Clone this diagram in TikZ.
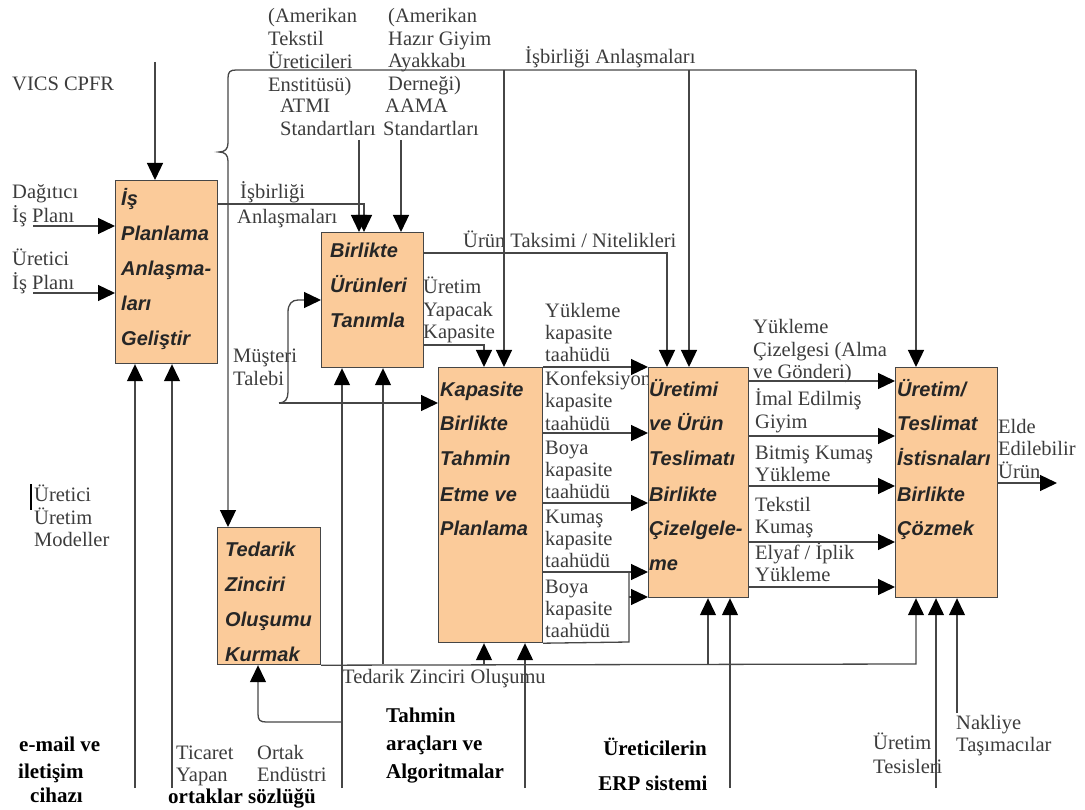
\documentclass[tikz,border=0pt]{standalone}
\usepackage{fontspec}
\setmainfont{Liberation Serif}
\newfontfamily\boxfont{Liberation Sans}
\usetikzlibrary{arrows.meta}
\definecolor{boxfill}{RGB}{251,203,154}
\definecolor{ink}{RGB}{60,60,60}
\definecolor{edge}{RGB}{70,70,70}
\newcommand{\ml}[1]{\begin{tabular}[t]{@{}l@{}}#1\end{tabular}}
\begin{document}
\begin{tikzpicture}[x=1pt,y=-1pt,
  lbl/.style={inner sep=0pt, anchor=base west, text=ink, font=\fontsize{20.5}{22.5}\selectfont},
  col/.style={lbl, font=\fontsize{20.5}{22}\selectfont},
  big/.style={inner sep=0pt, anchor=base west, text=black, font=\fontsize{21}{28}\selectfont\bfseries},
  proc/.style={draw=edge, line width=1.2pt, fill=boxfill, anchor=north west, inner sep=0pt},
  ptext/.style={inner sep=0pt, anchor=base west, text=black!85, font=\fontsize{20}{35}\selectfont\boxfont\bfseries\itshape},
  ln/.style={draw=edge, line width=1.3pt},
  arr/.style={ln, -{Triangle[length=17pt,width=16pt,black]}},
]
\useasboundingbox (0,0) rectangle (1085,810);

% ---------- labels ----------
\node[lbl] (vicsl) at (12,91) {VICS CPFR};
\node[lbl] (dagl) at (12,199) {\ml{Dağıtıcı\\İş Planı}};
\node[lbl] (uipl) at (12,266) {\ml{Üretici\\İş Planı}};
\node[lbl] (uuml) at (34,501) {\ml{Üretici\\Üretim\\Modeller}};
\node[lbl] (atmid) at (268,23) {\ml{(Amerikan\\Tekstil\\Üreticileri\\Enstitüsü)}};
\node[lbl] (atmil) at (280,113) {\ml{ATMI\\Standartları}};
\node[lbl] (aamad) at (388,23) {\ml{(Amerikan\\Hazır Giyim\\Ayakkabı\\Derneği)}};
\node[lbl] (aamal) at (383,113) {\ml{\hspace*{2pt}AAMA\\Standartları}};
\node[lbl] (isbt) at (525,64) {İşbirliği Anlaşmaları};
\node[lbl] (isbl) at (240,199) {İşbirliği};
\node[lbl] (anll) at (237,224) {Anlaşmaları};
\node[lbl] (ntl) at (463,248) {Ürün Taksimi / Nitelikleri};
\node[lbl] (ykl) at (423,294) {\ml{Üretim\\Yapacak\\Kapasite}};
\node[lbl] (mtl) at (233,363) {\ml{Müşteri\\Talebi}};
\node[col] (k0) at (545,318) {\ml{Yükleme\\kapasite\\taahüdü}};
\node[col] (k1) at (545,386) {\ml{Konfeksiyon\\kapasite\\taahüdü}};
\node[col] (k2) at (545,454) {\ml{Boya\\kapasite\\taahüdü}};
\node[col] (k3) at (545,523) {\ml{Kumaş\\kapasite\\taahüdü}};
\node[col] (k4) at (545,593) {\ml{Boya\\kapasite\\taahüdü}};
\node[lbl] (r0) at (753,334) {\ml{Yükleme\\Çizelgesi (Alma\\ve Gönderi)}};
\node[lbl] (r1) at (755,406) {\ml{İmal Edilmiş\\Giyim}};
\node[lbl] (r2) at (755,459) {\ml{Bitmiş Kumaş\\Yükleme}};
\node[lbl] (r3) at (755,511) {\ml{Tekstil\\Kumaş}};
\node[lbl] (r4) at (755,559) {\ml{Elyaf / İplik\\Yükleme}};
\node[lbl] (outl) at (998,433) {\ml{Elde\\Edilebilir\\Ürün}};
\node[lbl] (tzl) at (342,683) {Tedarik Zinciri Oluşumu};
\node[lbl] (ticl) at (176,759) {\ml{Ticaret\\Yapan}};
\node[lbl] (ortl) at (257,759) {\ml{Ortak\\Endüstri}};
\node[lbl] (tesl) at (873,749) {\ml{Üretim\\[2pt]Tesisleri}};
\node[lbl] (nakl) at (956,729) {\ml{Nakliye\\Taşımacılar}};
\node[big] (em1) at (19,751) {e-mail ve};
\node[big] (em2) at (18,778) {iletişim};
\node[big] (em3) at (30,802) {cihazı};
\node[big] (ortak) at (168,803) {ortaklar};
\node[big] (sozl) at (248,803) {sözlüğü};
\node[big] (tahl) at (386,722) {\ml{Tahmin\\araçları ve\\Algoritmalar}};
\node[big, anchor=base] (erp1) at (655,755) {Üreticilerin};
\node[big, anchor=base] (erp2) at (653,790) {ERP sistemi};

% ---------- process boxes ----------
\node[proc, minimum width=102pt, minimum height=183pt] (b1) at (115,180) {};
\node[proc, minimum width=102pt, minimum height=135pt] (b2) at (321,232) {};
\node[proc, minimum width=104pt, minimum height=275pt] (b3) at (438,367) {};
\node[proc, minimum width=100pt, minimum height=230pt] (b4) at (648,367) {};
\node[proc, minimum width=102pt, minimum height=230pt] (b5) at (895,367) {};
\node[proc, minimum width=103pt, minimum height=137pt] (b6) at (217,527) {};

\node[ptext] (b1t) at (121,206) {\ml{İş\\Planlama\\Anlaşma-\\ları\\Geliştir}};
\node[ptext] (b2t) at (330,258) {\ml{Birlikte\\Ürünleri\\Tanımla}};
\node[ptext] (b3t) at (440,396) {\ml{Kapasite\\Birlikte\\Tahmin\\Etme ve\\Planlama}};
\node[ptext] (b4t) at (649,396) {\ml{Üretimi\\ve Ürün\\Teslimatı\\Birlikte\\Çizelgele-\\me}};
\node[ptext] (b5t) at (897,396) {\ml{Üretim/\\Teslimat\\İstisnaları\\Birlikte\\Çözmek}};
\node[ptext] (b6t) at (225,556) {\ml{Tedarik\\Zinciri\\Oluşumu\\Kurmak}};

% ---------- inputs of the planning box ----------
\coordinate (vics) at (155,62);
\draw[arr] (vics) -- (vics |- b1.north);
\coordinate (dag) at (33,226);
\draw[arr] (dag) -- (dag -| b1.west);
\coordinate (uip) at (33,293);
\draw[arr] (uip) -- (uip -| b1.west);
\coordinate (ema) at (135,788);
\draw[arr] (ema) -- (ema |- b1.south);
\coordinate (tic) at (172,788);
\draw[arr] (tic) -- (tic |- b1.south);

% ---------- agreements and standards ----------
\coordinate (isb) at (364,204);
\draw[arr] (isb -| b1.east) -- (isb) -- (isb |- b2.north);
\coordinate (atmi) at (359,140);
\draw[arr] (atmi) -- (atmi |- b2.north);
\coordinate (aama) at (401,140);
\draw[arr] (aama) -- (aama |- b2.north);

% top agreement bus with its brace
\coordinate (tr) at (916,70);
\coordinate (brx) at (228,161);
\draw[arr] (tr) -- (236,70) .. controls (230,70) and (228,72) .. (228,78)
  -- (228,143) .. controls (228,149) and (225,152) .. (219,152)
  .. controls (225,152) and (228,155) .. (brx) -- (brx |- b6.north);
\draw[arr] (tr) -- (tr |- b5.north);
\coordinate (j1) at (504,70);
\draw[arr] (j1) -- (j1 |- b3.north);
\coordinate (j2) at (689,70);
\draw[arr] (j2) -- (j2 |- b4.north);

% ---------- outputs of the product box ----------
\coordinate (urt) at (667,253);
\draw[arr] (urt -| b2.east) -- (urt) -- (urt |- b4.north);
\coordinate (kap) at (484,345);
\draw[arr] (kap -| b2.east) -- (kap) -- (kap |- b3.north);

% customer demand
\coordinate (mt) at (279,403);
\coordinate (mt2) at (300,300);
\draw[arr] (mt) -- (mt -| b3.west);
\draw[arr] (mt) .. controls (285,403) and (288,399) .. (288,392) -- (288,312)
  .. controls (288,304) and (292,300) .. (298,300) -- (mt2 -| b2.west);

% ---------- mechanisms from below ----------
\coordinate (ort) at (342,788);
\draw[arr] (ort) -- (ort |- b2.south);
\coordinate (ortk) at (342,722);
\coordinate (o6) at (258,714);
\draw[arr] (ortk) -- (266,722) .. controls (260,722) and (258,720) .. (o6) -- (o6 |- b6.south);
\coordinate (tah) at (525,788);
\draw[arr] (tah) -- (tah |- b3.south);
\coordinate (erp) at (730,788);
\draw[arr] (erp) -- (erp |- b4.south);
\coordinate (tes) at (936,788);
\draw[arr] (tes) -- (tes |- b5.south);
\coordinate (nak) at (957,713);
\draw[arr] (nak) -- (nak |- b5.south);

% supply chain bus
\coordinate (td5) at (916,664);
\draw[arr] (b6.south east) -- (td5) -- (td5 |- b5.south);
\coordinate (td2) at (383,664);
\draw[arr] (td2) -- (td2 |- b2.south);
\coordinate (td3) at (484,664);
\draw[arr] (td3) -- (td3 |- b3.south);
\coordinate (td4) at (708,664);
\draw[arr] (td4) -- (td4 |- b4.south);

% ---------- capacity commitments ----------
\foreach \y/\n in {367/c0, 433/c1, 503/c2, 572/c3} {
  \coordinate (\n) at (600,\y);
  \draw[arr] (\n -| b3.east) -- (\n -| b4.west);
}
\coordinate (cr) at (629,642);
\draw[ln] (b3.south east) -- (cr) -- (cr |- c3);
\coordinate (c4) at (629,597);
\draw[arr] (c4) -- (c4 -| b4.west);

% ---------- schedule outputs ----------
\foreach \y/\n in {381/d0, 436/d1, 486/d2, 542/d3, 587/d4} {
  \coordinate (\n) at (800,\y);
  \draw[arr] (\n -| b4.east) -- (\n -| b5.west);
}
\coordinate (out) at (1057,483);
\draw[arr] (out -| b5.east) -- (out);

% marker bar beside the production models label
\draw[line width=2.2pt, black] (31,484) -- (31,510);
\end{tikzpicture}
\end{document}
